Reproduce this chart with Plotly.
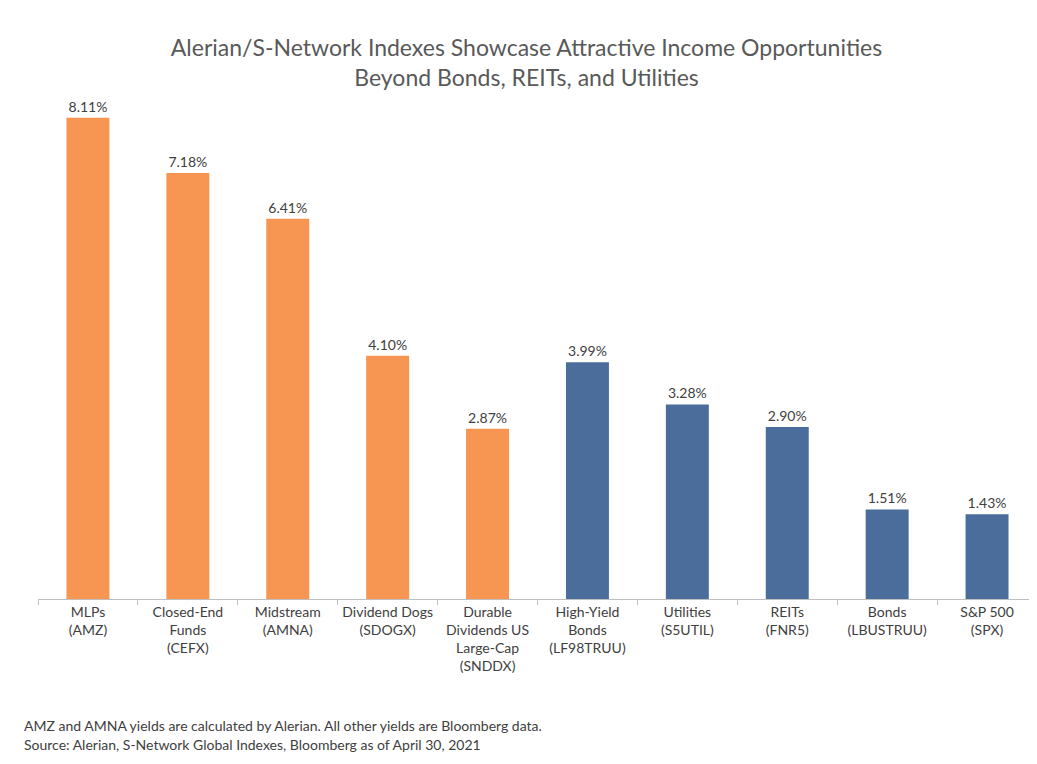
import plotly.graph_objects as go

categories = ["MLPs<br>(AMZ)", "Closed-End<br>Funds<br>(CEFX)", "Midstream<br>(AMNA)", "Dividend Dogs<br>(SDOGX)",
              "Durable<br>Dividends US<br>Large-Cap<br>(SNDDX)", "High-Yield<br>Bonds<br>(LF98TRUU)",
              "Utilities<br>(S5UTIL)", "REITs<br>(FNR5)", "Bonds<br>(LBUSTRUU)", "S&P 500<br>(SPX)"]
values = [8.11, 7.18, 6.41, 4.10, 2.87, 3.99, 3.28, 2.90, 1.51, 1.43]
colors = ["#F79552"] * 5 + ["#4A6D9B"] * 5

fig = go.Figure(go.Bar(
    x=categories, y=values, marker_color=colors, marker_line_width=0,
    text=[f"{v:.2f}%" for v in values], textposition="outside",
    textfont=dict(size=14, color="#404040"), cliponaxis=False))

fig.update_layout(
    width=1037, height=764, plot_bgcolor="white", paper_bgcolor="white",
    font=dict(family="Lato, Open Sans, sans-serif", color="#404040"),
    margin=dict(l=30, r=8, t=57, b=173, autoexpand=False),
    bargap=0.57, showlegend=False,
    title=dict(text="Alerian/S-Network Indexes Showcase Attractive Income Opportunities<br>Beyond Bonds, REITs, and Utilities",
               x=0.5, xanchor="center", yref="container", y=0.937, yanchor="middle",
               font=dict(size=23, color="#595959")),
    xaxis=dict(showline=True, linecolor="#BFBFBF", ticks="outside", tickson="boundaries",
               tickcolor="#BFBFBF", ticklen=5, automargin=False,
               tickfont=dict(size=14, color="#404040")),
    yaxis=dict(range=[0, 9], visible=False, automargin=False),
    annotations=[
        dict(text="AMZ and AMNA yields are calculated by Alerian. All other yields are Bloomberg data.",
             xref="paper", yref="paper", x=-0.016, y=-0.236, xanchor="left", yanchor="middle",
             showarrow=False, font=dict(size=14, color="#404040")),
        dict(text="Source: Alerian, S-Network Global Indexes, Bloomberg as of April 30, 2021",
             xref="paper", yref="paper", x=-0.016, y=-0.273, xanchor="left", yanchor="middle",
             showarrow=False, font=dict(size=14, color="#404040")),
    ])
fig.write_html("out.html")
